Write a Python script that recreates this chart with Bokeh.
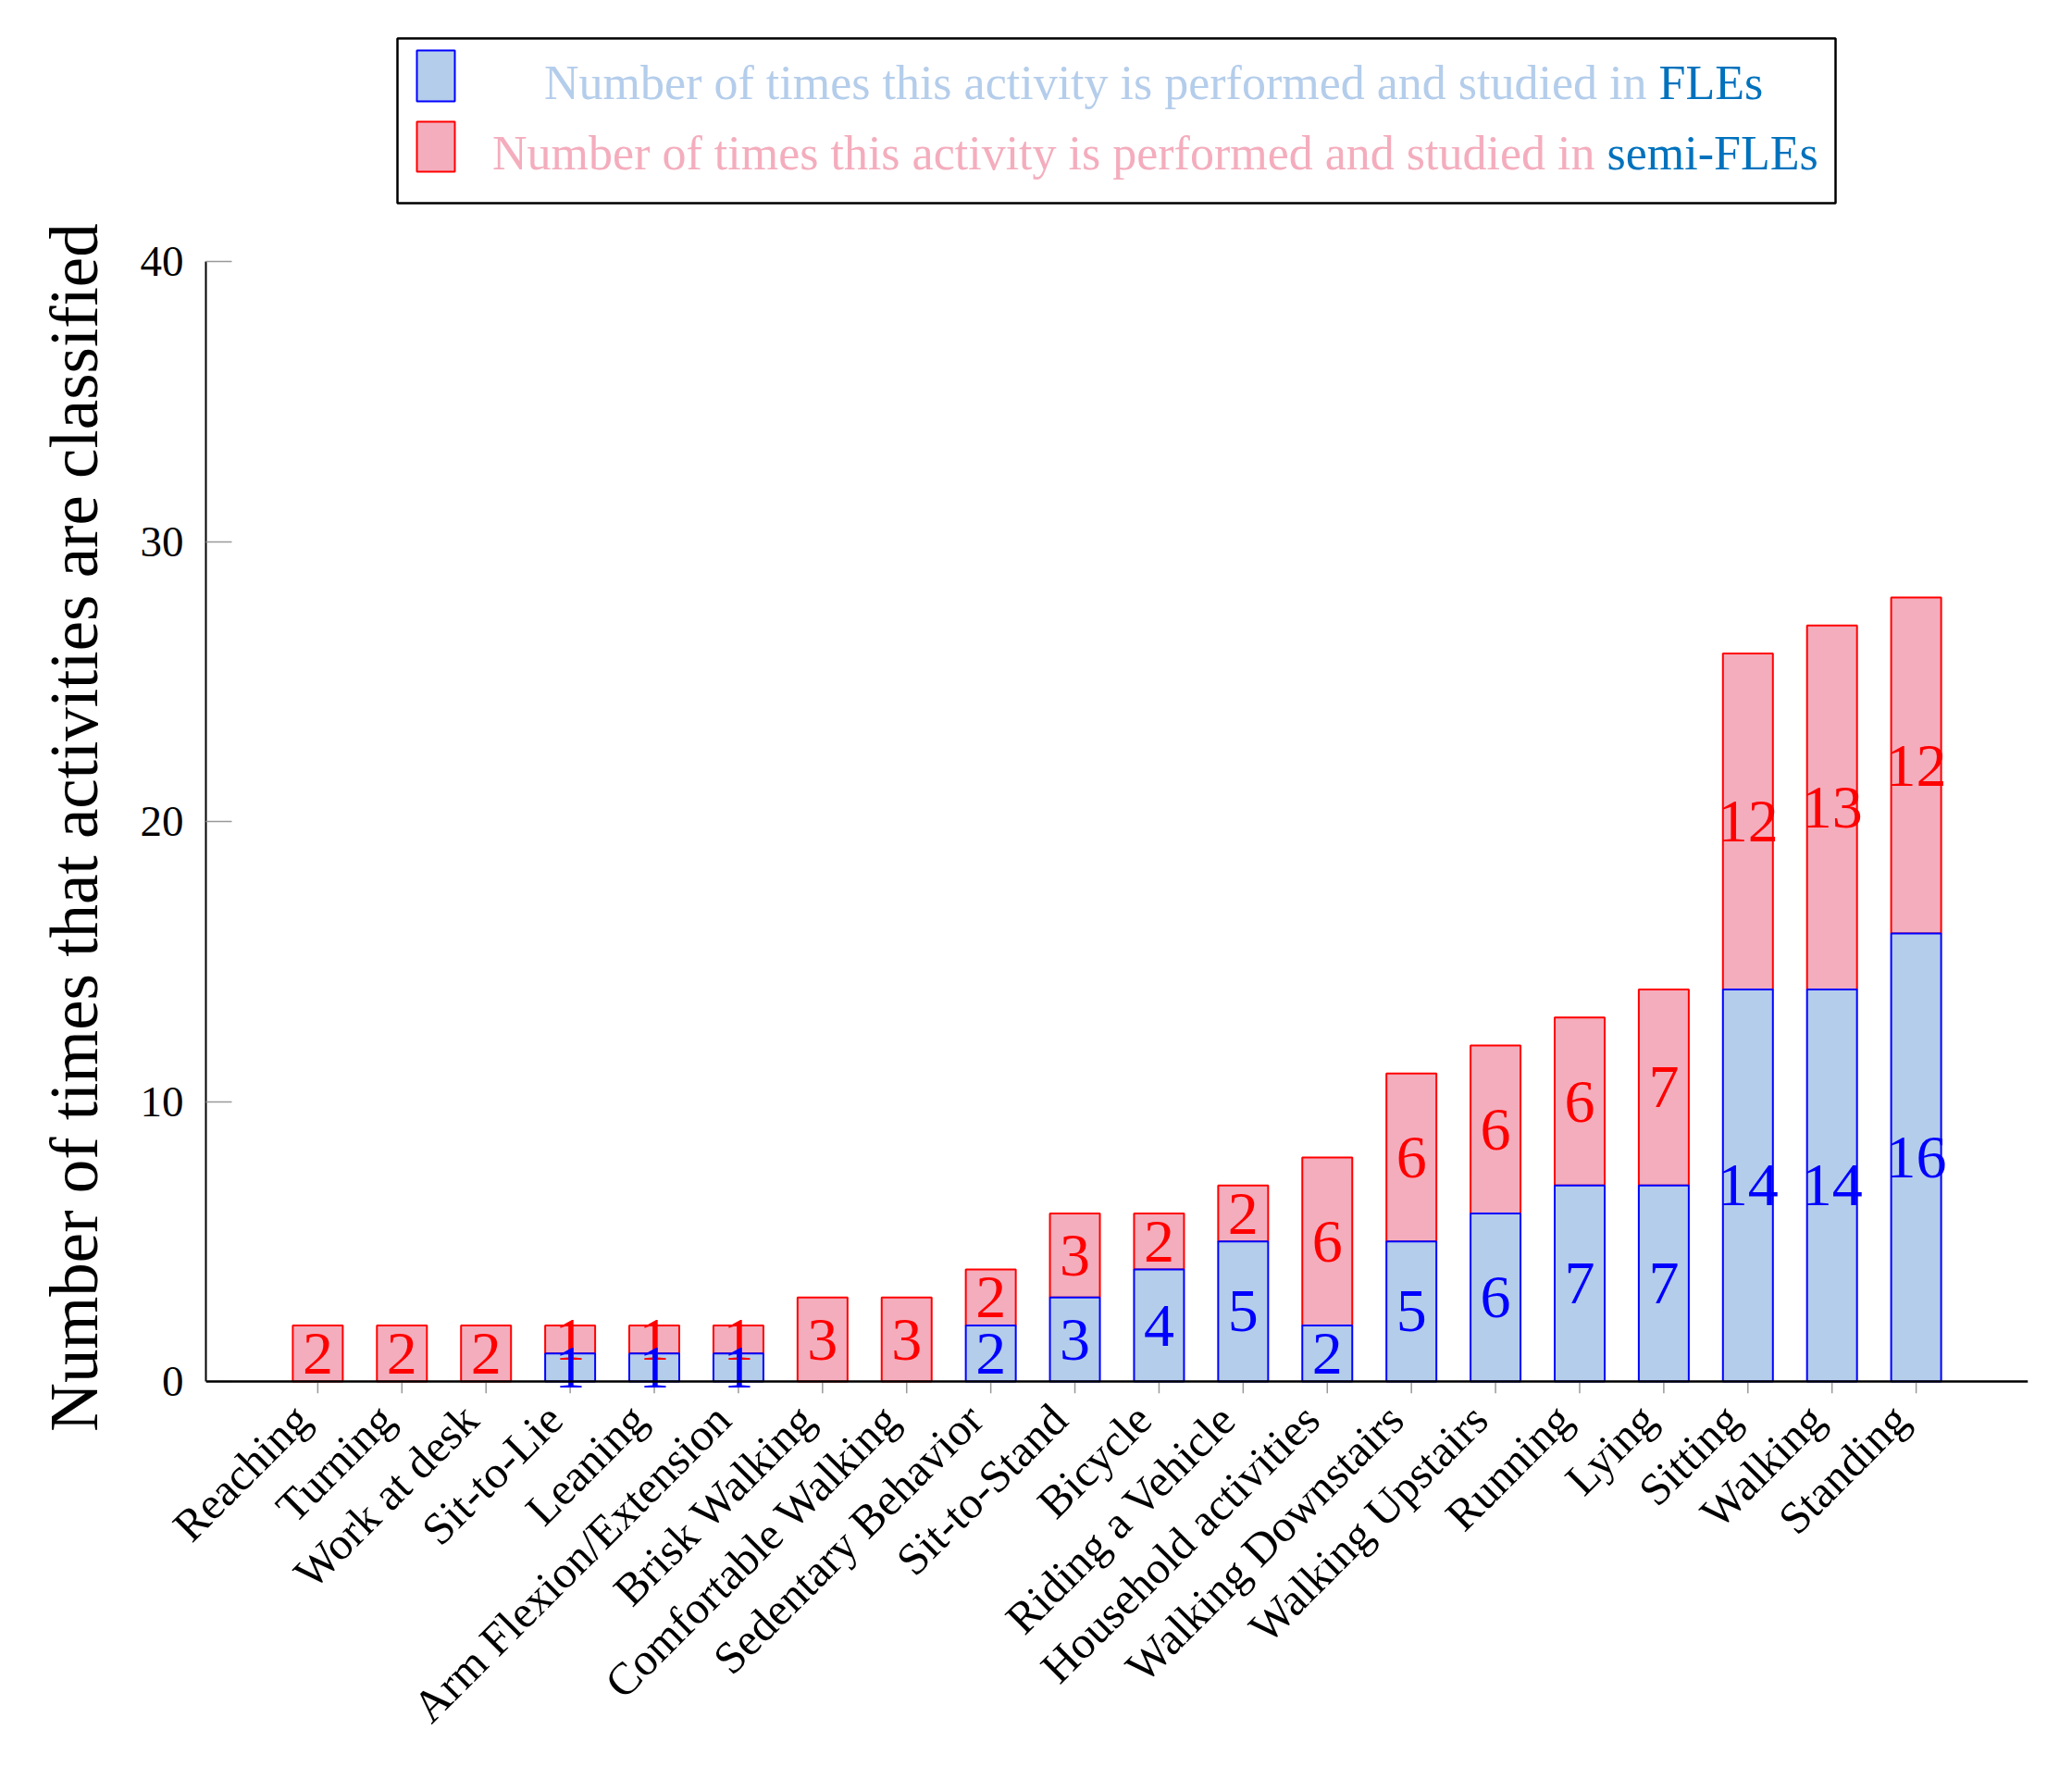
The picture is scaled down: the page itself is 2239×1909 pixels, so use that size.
import math
from bokeh.plotting import figure
from bokeh.layouts import column
from bokeh.models import Range1d, FixedTicker, LinearAxis, Span
from bokeh.embed import file_html
from bokeh.resources import INLINE
from bokeh.core.properties import value

# ---------------- data ----------------
categories = ["Reaching", "Turning", "Work at desk", "Sit-to-Lie", "Leaning",
              "Arm Flexion/Extension", "Brisk Walking", "Comfortable Walking",
              "Sedentary Behavior", "Sit-to-Stand", "Bicycle", "Riding a Vehicle",
              "Household activities", "Walking Downstairs", "Walking Upstairs",
              "Running", "Lying", "Sitting", "Walking", "Standing"]
fles = [0, 0, 0, 1, 1, 1, 0, 0, 2, 3, 4, 5, 2, 5, 6, 7, 7, 14, 14, 16]
semi_fles = [2, 2, 2, 1, 1, 1, 3, 3, 2, 3, 2, 2, 6, 6, 6, 6, 7, 12, 13, 12]
y_ticks = [0, 10, 20, 30, 40]
legend_main = ["Number of times this activity is performed and studied in",
               "Number of times this activity is performed and studied in"]
legend_tail = ["FLEs", "semi-FLEs"]
y_label = "Number of times that activities are classified"

# ---------------- style ----------------
FONT = "Liberation Serif"
BLUE_FILL, BLUE_LINE = "#B4CDEB", "#0000FF"
RED_FILL, RED_LINE = "#F4ADBD", "#FF0000"
TAIL_COLOR = "#0072BD"
TICK_COLOR = "#999999"

W, H = 2223, 1893
LEG_H = 224
FL, FR = 222, 2191          # frame left / right (px)
Y40, Y0 = 282, 1494          # pixel rows of y = 40 and y = 0
TICK_LEN = 13
ppu = (Y0 - Y40) / 40.0
tick_d = TICK_LEN / ppu

# ---------------- legend panel (pixel-like coordinates) ----------------
lg = figure(width=W, height=LEG_H, output_backend="svg", toolbar_location=None,
            x_range=Range1d(FL, FR), y_range=Range1d(LEG_H, 0),
            x_axis_type=None, y_axis_type=None,
            min_border_left=FL, min_border_right=W - FR,
            min_border_top=0, min_border_bottom=0)
lg.outline_line_color = None
lg.xgrid.visible = False
lg.ygrid.visible = False
lg.quad(left=[429], right=[1983], top=[41], bottom=[219],
        fill_color="white", line_color="black", line_width=2.5)
lg.quad(left=[450], right=[491], top=[54], bottom=[109],
        fill_color=BLUE_FILL, line_color=BLUE_LINE, line_width=2)
lg.quad(left=[450], right=[491], top=[131], bottom=[185],
        fill_color=RED_FILL, line_color=RED_LINE, line_width=2)
lg.text(x=[1779, 1723], y=[89, 165], text=legend_main,
        text_font=value(FONT), text_font_size="52px",
        text_color=[BLUE_FILL, RED_FILL], text_align="right",
        text_baseline="alphabetic")
lg.text(x=[1792, 1736], y=[89, 165], text=legend_tail,
        text_font=value(FONT), text_font_size="52px", text_color=TAIL_COLOR,
        text_align="left", text_baseline="alphabetic")

# ---------------- main chart ----------------
MH = H - LEG_H
MT = Y40 - LEG_H
MB = MH - (Y0 + TICK_LEN - LEG_H)
pad = 1.33
x0, x1 = -pad, len(categories) - 1 + pad
shift = 17 / ((FR - FL) / (x1 - x0))   # category names sit a little left of their tick

p = figure(width=W, height=MH, output_backend="svg", toolbar_location=None,
           x_range=Range1d(x0, x1), y_range=Range1d(-tick_d, 40),
           x_axis_location=None,
           min_border_left=FL, min_border_right=W - FR,
           min_border_top=MT, min_border_bottom=MB)
p.outline_line_color = None
p.xgrid.visible = False
p.ygrid.visible = False

xs = list(range(len(categories)))
bw = 0.594

# red (semi-FLEs) stacked on blue
p.vbar(x=xs, bottom=fles, top=[a + b for a, b in zip(fles, semi_fles)], width=bw,
       fill_color=RED_FILL, line_color=RED_LINE, line_width=2)
bx = [x for x, v in zip(xs, fles) if v > 0]
bv = [v for v in fles if v > 0]
p.vbar(x=bx, bottom=0, top=bv, width=bw,
       fill_color=BLUE_FILL, line_color=BLUE_LINE, line_width=2)

# x axis line and its tick marks
p.segment(x0=xs, y0=[0] * len(xs), x1=xs, y1=[-tick_d] * len(xs),
          line_color=TICK_COLOR, line_width=1.5)
p.add_layout(Span(location=0, dimension="width", line_color="black",
                  line_width=2.5))

# value labels
p.text(x=xs, y=[a + b / 2 for a, b in zip(fles, semi_fles)],
       text=[str(v) for v in semi_fles], text_font=value(FONT),
       text_font_size="66px", text_color=RED_LINE,
       text_align="center", text_baseline="middle")
p.text(x=bx, y=[v / 2 for v in bv], text=[str(v) for v in bv],
       text_font=value(FONT), text_font_size="66px", text_color=BLUE_LINE,
       text_align="center", text_baseline="middle")

# category names: an axis on a slightly shifted range
p.extra_x_ranges = {"names": Range1d(x0 + shift, x1 + shift)}
xax = LinearAxis(x_range_name="names", ticker=FixedTicker(ticks=xs))
xax.major_label_overrides = {i: c for i, c in enumerate(categories)}
xax.major_label_orientation = math.pi / 4
xax.major_label_text_font = FONT
xax.major_label_text_font_size = "49px"
xax.major_label_text_color = "black"
xax.major_label_standoff = 20
xax.major_tick_in = 0
xax.major_tick_out = 0
xax.major_tick_line_color = None
xax.minor_tick_line_color = None
xax.axis_line_color = None
p.add_layout(xax, "below")

# y axis
p.yaxis.ticker = FixedTicker(ticks=y_ticks)
p.yaxis.bounds = (0, 40)
p.yaxis.major_label_text_font = FONT
p.yaxis.major_label_text_font_size = "47px"
p.yaxis.major_label_text_color = "black"
p.yaxis.major_label_standoff = 24
p.yaxis.major_tick_in = 28
p.yaxis.major_tick_out = 0
p.yaxis.minor_tick_line_color = None
p.yaxis.major_tick_line_color = TICK_COLOR
p.yaxis.major_tick_line_width = 1.5
p.yaxis.axis_line_width = 2
p.yaxis.axis_line_color = "black"
p.yaxis.axis_label = y_label
p.yaxis.axis_label_text_font = FONT
p.yaxis.axis_label_text_font_size = "73px"
p.yaxis.axis_label_text_font_style = "normal"
p.yaxis.axis_label_text_color = "black"
p.yaxis.axis_label_standoff = 28

layout = column(lg, p, spacing=0)
open("out.html", "w").write(file_html(layout, INLINE))
